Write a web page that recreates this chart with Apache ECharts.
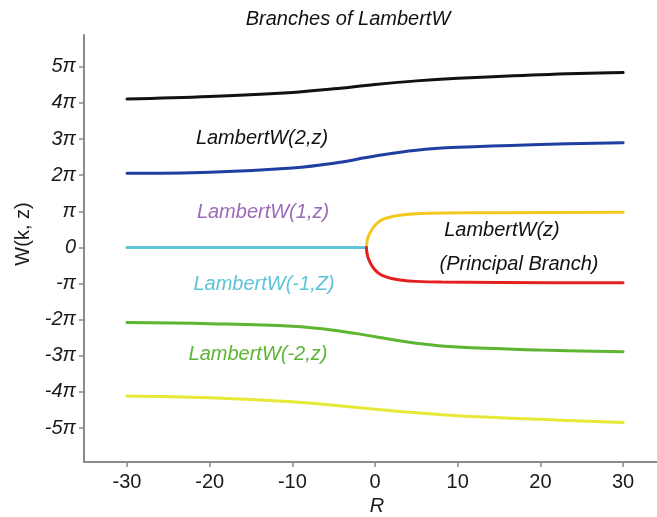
<!DOCTYPE html>
<html>
<head>
<meta charset="utf-8">
<script src="https://cdn.jsdelivr.net/npm/echarts@6/dist/echarts.min.js"></script>
<style>
  html, body { margin: 0; padding: 0; background: #ffffff; }
  #chart { width: 657px; height: 517px; }
</style>
</head>
<body>
<div id="chart"></div>
<script>
// Imaginary part of the LambertW branches, in multiples of π, against real R.
const xTicks = [-30, -20, -10, 0, 10, 20, 30];
const yTicks = [-5, -4, -3, -2, -1, 0, 1, 2, 3, 4, 5];

const gridR = [-30, -20, -10, -5, 0, 5, 10, 20, 30];
const upper2 = [4.11, 4.18, 4.29, 4.39, 4.51, 4.61, 4.68, 4.78, 4.84];
const upper1 = [2.05, 2.08, 2.20, 2.33, 2.53, 2.69, 2.77, 2.85, 2.90];
const lower1 = [-2.08, -2.11, -2.18, -2.29, -2.47, -2.65, -2.76, -2.84, -2.89];
const lower2 = [-4.11, -4.16, -4.27, -4.37, -4.48, -4.58, -4.66, -4.76, -4.85];

const flatR = [-30, -1.05];
const flatW = [0, 0];

const principalR = [-1.05, -1.0, -0.9, -0.75, -0.5, -0.2, 0.3, 1, 2, 3, 5, 8, 15, 30];
const principalUp = [0, 0.12, 0.24, 0.34, 0.45, 0.56, 0.68, 0.78, 0.85, 0.89, 0.93, 0.95, 0.96, 0.97];
const principalDown = [0, -0.12, -0.24, -0.34, -0.46, -0.57, -0.69, -0.79, -0.86, -0.9, -0.94, -0.96, -0.97, -0.98];

const pairs = (xs, ys) => xs.map((x, i) => [x, ys[i]]);
const FONT = "'Liberation Sans', Arial, sans-serif";

function piLabel(v) {
  if (v === 0) return '0';
  if (v === 1) return 'π';
  if (v === -1) return '-π';
  return v + 'π';
}

function curve(name, xs, ys, color, smooth) {
  return {
    name: name,
    type: 'line',
    data: pairs(xs, ys),
    smooth: smooth,
    showSymbol: false,
    symbol: 'none',
    lineStyle: { color: color, width: 3, cap: 'round' },
    z: 3
  };
}

const chart = echarts.init(document.getElementById('chart'), null, { renderer: 'canvas' });

const note = (text, x, y, color, size) => ({
  type: 'text',
  x: x, y: y,
  style: {
    text: text, fill: color, font: 'italic ' + size + 'px ' + FONT,
    textAlign: 'center', textVerticalAlign: 'middle'
  }
});

chart.setOption({
  animation: false,
  backgroundColor: '#ffffff',
  grid: { left: 84, right: 0, top: 35, bottom: 55, containLabel: false },
  xAxis: {
    type: 'value',
    min: -35.2, max: 34.1,
    splitLine: { show: false },
    axisLine: { show: true, onZero: false, lineStyle: { color: '#8a8a8a', width: 2 } },
    axisTick: { show: true, customValues: xTicks, length: 5, lineStyle: { color: '#8a8a8a', width: 1.5 } },
    axisLabel: { customValues: xTicks, color: '#1a1a1a', fontSize: 20, fontFamily: FONT, margin: 10 }
  },
  yAxis: {
    type: 'value',
    min: -5.94, max: 5.88,
    splitLine: { show: false },
    axisLine: { show: true, onZero: false, lineStyle: { color: '#8a8a8a', width: 2 } },
    axisTick: { show: true, customValues: yTicks, length: 5, lineStyle: { color: '#8a8a8a', width: 1.5 } },
    axisLabel: {
      customValues: yTicks, color: '#1a1a1a', fontSize: 20, fontStyle: 'italic',
      fontFamily: FONT, margin: 8, formatter: piLabel
    }
  },
  graphic: [
    note('Branches of LambertW', 348, 19, '#111111', 20),
    {
      type: 'text', x: 23, y: 234, rotation: Math.PI / 2,
      style: { text: 'W(k, z)', fill: '#1a1a1a', font: '20px ' + FONT, textAlign: 'center', textVerticalAlign: 'middle' }
    },
    note('R', 377, 506, '#1a1a1a', 20),
    note('LambertW(2,z)', 262, 138, '#111111', 20),
    note('LambertW(1,z)', 263, 212, '#9b6bb8', 20),
    note('LambertW(-1,Z)', 264, 284, '#5cc3d8', 20),
    note('LambertW(-2,z)', 258, 354, '#5cb533', 20),
    note('LambertW(z)', 502, 230, '#111111', 20),
    note('(Principal Branch)', 519, 264, '#111111', 20)
  ],
  series: [
    curve('LambertW(2,z) upper', gridR, upper2, '#111111', 0.4),
    curve('LambertW(2,z)', gridR, upper1, '#1f3fa3', 0.4),
    curve('LambertW(-2,z)', gridR, lower1, '#5db531', 0.4),
    curve('LambertW(-2,z) lower', gridR, lower2, '#e8e838', 0.4),
    curve('LambertW(-1,Z)', flatR, flatW, '#5ec6d6', false),
    curve('LambertW(z) upper', principalR, principalUp, '#f3c81e', 0.3),
    curve('LambertW(z) lower', principalR, principalDown, '#e3201f', 0.3)
  ]
});
</script>
</body>
</html>
